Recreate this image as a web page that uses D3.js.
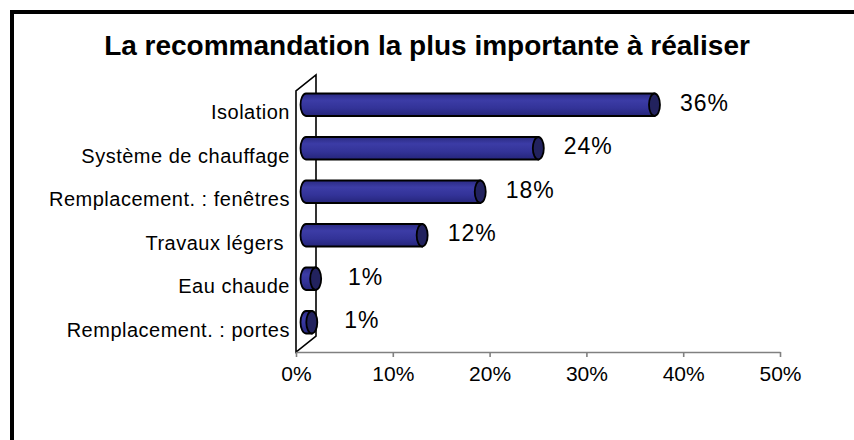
<!DOCTYPE html>
<html>
<head>
<meta charset="utf-8">
<script src="https://cdn.jsdelivr.net/npm/d3@7"></script>
<style>
  html, body { margin: 0; padding: 0; background: #fff; }
  svg { display: block; }
  text { font-family: "Liberation Sans", Arial, sans-serif; fill: #000; }
</style>
</head>
<body>
<svg id="chart" width="854" height="440"></svg>
<script>
// ---- data ----
const categories = ["Isolation", "Système de chauffage", "Remplacement. : fenêtres", "Travaux légers ", "Eau chaude", "Remplacement. : portes"];
const values = [36, 24, 18, 12, 1, 0.6];
const xTicks = [0, 10, 20, 30, 40, 50];
const title = "La recommandation la plus importante à réaliser";

// ---- layout ----
const W = 854, H = 440;
const svg = d3.select("#chart");
const depthX = 20, depthY = 16;

svg.append("rect").attr("width", W).attr("height", H).attr("fill", "#fff");
// frame (top and left edges visible, the rest cropped)
svg.append("rect").attr("x", 12).attr("y", 12).attr("width", 1000).attr("height", 1000)
  .attr("fill", "none").attr("stroke", "#000").attr("stroke-width", 4);

svg.append("text").attr("x", 427).attr("y", 55).attr("text-anchor", "middle")
  .attr("font-size", 28).attr("font-weight", "bold").text(title);

const x = d3.scaleLinear().domain([0, 50]).range([296, 780]);
const y = d3.scaleBand().domain(categories).range([91, 352]).padding(0);

const defs = svg.append("defs");
const grad = defs.append("linearGradient").attr("id", "cyl").attr("x1", 0).attr("y1", 0).attr("x2", 0).attr("y2", 1);
[[0, "#2a2a82"], [0.3, "#3c3ca6"], [0.65, "#333398"], [1, "#25257a"]].forEach(([o, c]) =>
  grad.append("stop").attr("offset", o).attr("stop-color", c));

// side wall
const x0 = x(0), yTop = y.range()[0], yBot = y.range()[1];
svg.append("path")
  .attr("d", `M${x0},${yBot} L${x0},${yTop} L${x0 + depthX},${yTop - depthY} L${x0 + depthX},${yBot - depthY} Z`)
  .attr("fill", "#fff").attr("stroke", "#000").attr("stroke-width", 1.6).attr("stroke-linejoin", "miter");

// x axis
const xAxis = d3.axisBottom(x).tickValues(xTicks).tickSize(5).tickSizeOuter(0).tickPadding(9)
  .tickFormat(d => d + "%");
const gx = svg.append("g").attr("transform", `translate(0,${yBot})`).call(xAxis);
gx.select(".domain").attr("stroke", "#808080").attr("stroke-width", 1.6);
gx.selectAll(".tick line").attr("stroke", "#808080").attr("stroke-width", 1.6);
gx.selectAll(".tick text").attr("font-size", 21).attr("fill", "#000")
  .attr("font-family", '"Liberation Sans", Arial, sans-serif');

// y axis (category labels)
const yAxis = d3.axisLeft(y).tickSize(0).tickPadding(6);
const gy = svg.append("g").attr("transform", `translate(${x0},0)`).call(yAxis);
gy.select(".domain").remove();
gy.selectAll(".tick text").attr("font-size", 20).attr("fill", "#000")
  .attr("letter-spacing", "0.5px").style("white-space", "pre")
  .attr("font-family", '"Liberation Sans", Arial, sans-serif');

// bars (3D cylinders)
const barH = 22.5, rx = 5.5;
const bars = svg.append("g").selectAll("g").data(categories).join("g");
bars.each(function (c, i) {
  const g = d3.select(this);
  const cy = y(c) + y.bandwidth() / 2 - depthY / 2;
  const xL = x(0) + depthX / 2, xR = x(values[i]) + depthX / 2;
  const t = cy - barH / 2, b = cy + barH / 2;
  g.append("path")
    .attr("d", `M${xL},${t} L${xR},${t} L${xR},${b} L${xL},${b} A${rx},${barH / 2} 0 0 1 ${xL},${t} Z`)
    .attr("fill", "url(#cyl)").attr("stroke", "#000").attr("stroke-width", 1.8);
  g.append("ellipse").attr("cx", xR).attr("cy", cy).attr("rx", rx).attr("ry", barH / 2)
    .attr("fill", "#22225e").attr("stroke", "#000").attr("stroke-width", 1.8);
  g.append("text").attr("x", xR + 50).attr("y", cy + 6).attr("text-anchor", "middle")
    .attr("font-size", 23).attr("letter-spacing", "1px")
    .text(d3.format(".0f")(values[i]) + "%");
});
</script>
</body>
</html>
